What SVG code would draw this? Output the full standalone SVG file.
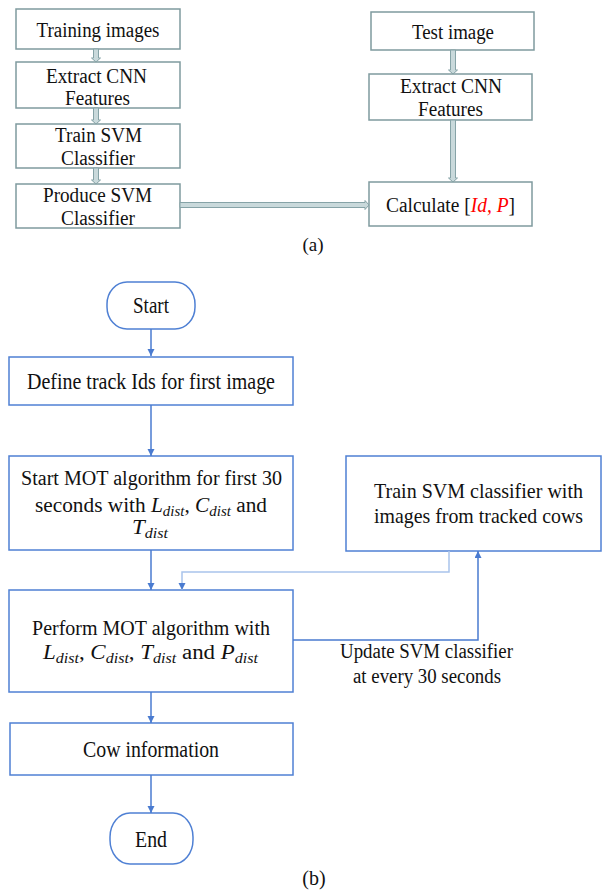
<svg xmlns="http://www.w3.org/2000/svg" width="602" height="893" viewBox="0 0 602 893">
<style>
.abox{fill:#fff;stroke:#7f9a9e;stroke-width:1.5}
.bbox{fill:#fff;stroke:#4f80d4;stroke-width:1.5}
text{font-family:'Liberation Serif','Times New Roman','DejaVu Serif',serif;fill:#111;text-anchor:middle}
.ta{font-size:20px}
.m{font-style:italic}
.sub{font-style:italic;font-size:14px}
.dbl{fill:#c9d9db;stroke:#86a3a7;stroke-width:1}
.ln{fill:none;stroke:#4a7bd0;stroke-width:1.5}
.lnl{fill:none;stroke:#a9c4ec;stroke-width:1.5}
</style>
<defs>
<marker id="ah" markerWidth="8" markerHeight="8" refX="7" refY="3.5" orient="auto" markerUnits="userSpaceOnUse">
<path d="M0,0 L7,3.5 L0,7 z" fill="#4a7bd0"/>
</marker>
</defs>

<!-- (a) nodes -->
<g id="a_training"><rect class="abox" x="16" y="9" width="164" height="40"/>
<text class="ta" x="98" y="37" textLength="123" lengthAdjust="spacingAndGlyphs">Training images</text></g>
<g id="a_extract_left"><rect class="abox" x="16" y="62" width="164" height="46"/>
<text class="ta" x="96.5" y="83" textLength="101" lengthAdjust="spacingAndGlyphs">Extract CNN</text>
<text class="ta" x="97.5" y="105" textLength="65" lengthAdjust="spacingAndGlyphs">Features</text></g>
<g id="a_train"><rect class="abox" x="16" y="124" width="164" height="44"/>
<text class="ta" x="98.5" y="142" textLength="87" lengthAdjust="spacingAndGlyphs">Train SVM</text>
<text class="ta" x="98" y="165" textLength="74" lengthAdjust="spacingAndGlyphs">Classifier</text></g>
<g id="a_produce"><rect class="abox" x="16" y="184" width="164" height="44"/>
<text class="ta" x="97.5" y="202" textLength="109" lengthAdjust="spacingAndGlyphs">Produce SVM</text>
<text class="ta" x="98" y="225" textLength="74" lengthAdjust="spacingAndGlyphs">Classifier</text></g>
<g id="a_test"><rect class="abox" x="371" y="12" width="163" height="38"/>
<text class="ta" x="453" y="39" textLength="82" lengthAdjust="spacingAndGlyphs">Test image</text></g>
<g id="a_extract_right"><rect class="abox" x="369" y="74" width="163" height="46"/>
<text class="ta" x="451" y="93" textLength="102" lengthAdjust="spacingAndGlyphs">Extract CNN</text>
<text class="ta" x="450.5" y="116" textLength="65" lengthAdjust="spacingAndGlyphs">Features</text></g>
<g id="a_calc"><rect class="abox" x="369" y="182" width="163" height="44"/>
<text class="ta" x="450.5" y="212" textLength="129" lengthAdjust="spacingAndGlyphs">Calculate [<tspan class="m" fill="#ff0000">Id, P</tspan>]</text></g>

<!-- (a) connectors -->
<g id="a_connectors">
<polygon class="dbl" points="93.5,49 98.5,49 98.5,58 100.5,58 96,62 91.5,58 93.5,58"/>
<polygon class="dbl" points="93.5,108 98.5,108 98.5,120 100.5,120 96,124 91.5,120 93.5,120"/>
<polygon class="dbl" points="93.5,168 98.5,168 98.5,180 100.5,180 96,184 91.5,180 93.5,180"/>
<polygon class="dbl" points="450.5,50 455.5,50 455.5,70 457.5,70 453,74 448.5,70 450.5,70"/>
<polygon class="dbl" points="450.5,120 455.5,120 455.5,178 457.5,178 453,182 448.5,178 450.5,178"/>
<polygon class="dbl" points="180,202.5 365,202.5 365,200.5 369,205 365,209.5 365,207.5 180,207.5"/>
</g>
<text x="313" y="251" font-size="19">(a)</text>

<!-- (b) nodes -->
<g id="b_start"><rect class="bbox" x="107" y="282" width="88" height="47" rx="20" ry="22"/>
<text font-size="23" x="151" y="313" textLength="36" lengthAdjust="spacingAndGlyphs">Start</text></g>
<g id="b_define"><rect class="bbox" x="9" y="357" width="284" height="48"/>
<text font-size="24" x="151" y="389" textLength="248" lengthAdjust="spacingAndGlyphs">Define track Ids for first image</text></g>
<g id="b_startmot"><rect class="bbox" x="9" y="456" width="284" height="94"/>
<text font-size="20" x="151.5" y="485" textLength="261" lengthAdjust="spacingAndGlyphs">Start MOT algorithm for first 30</text>
<text font-size="20" x="151" y="512" textLength="232" lengthAdjust="spacingAndGlyphs">seconds with <tspan class="m">L</tspan><tspan class="sub" baseline-shift="-4">dist</tspan>, <tspan class="m">C</tspan><tspan class="sub" baseline-shift="-4">dist</tspan> and</text>
<text font-size="20" x="150" y="534" textLength="36" lengthAdjust="spacingAndGlyphs"><tspan class="m">T</tspan><tspan class="sub" baseline-shift="-4">dist</tspan></text></g>
<g id="b_trainsvm"><rect class="bbox" x="346" y="456" width="255" height="95"/>
<text font-size="21" x="478.5" y="498" textLength="209" lengthAdjust="spacingAndGlyphs">Train SVM classifier with</text>
<text font-size="21" x="478.5" y="523" textLength="209" lengthAdjust="spacingAndGlyphs">images from tracked cows</text></g>
<g id="b_perform"><rect class="bbox" x="9" y="590" width="284" height="102"/>
<text font-size="20" x="151" y="635" textLength="238" lengthAdjust="spacingAndGlyphs">Perform MOT algorithm with</text>
<text font-size="20" x="150.5" y="659" textLength="215" lengthAdjust="spacingAndGlyphs"><tspan class="m">L</tspan><tspan class="sub" baseline-shift="-4">dist</tspan>, <tspan class="m">C</tspan><tspan class="sub" baseline-shift="-4">dist</tspan>, <tspan class="m">T</tspan><tspan class="sub" baseline-shift="-4">dist</tspan> and <tspan class="m">P</tspan><tspan class="sub" baseline-shift="-4">dist</tspan></text></g>
<g id="b_cow"><rect class="bbox" x="10" y="723" width="283" height="52"/>
<text font-size="23" x="151" y="757" textLength="136" lengthAdjust="spacingAndGlyphs">Cow information</text></g>
<g id="b_end"><rect class="bbox" x="110" y="813" width="83" height="51" rx="20" ry="24"/>
<text font-size="23" x="151" y="847" textLength="32" lengthAdjust="spacingAndGlyphs">End</text></g>

<!-- (b) connectors -->
<g id="b_connectors">
<line class="ln" x1="151" y1="329" x2="151" y2="356" marker-end="url(#ah)"/>
<line class="ln" x1="151" y1="405" x2="151" y2="456" marker-end="url(#ah)"/>
<line class="ln" x1="151" y1="550" x2="151" y2="590" marker-end="url(#ah)"/>
<path class="lnl" d="M449,551 V572 H182 V590" marker-end="url(#ah)"/>
<path class="ln" d="M293,640 H478 V551" marker-end="url(#ah)"/>
<line class="ln" x1="151" y1="692" x2="151" y2="723" marker-end="url(#ah)"/>
<line class="ln" x1="151" y1="775" x2="151" y2="813" marker-end="url(#ah)"/>
</g>
<text font-size="20" x="426.5" y="658" textLength="173" lengthAdjust="spacingAndGlyphs">Update SVM classifier</text>
<text font-size="20" x="427" y="683" textLength="148" lengthAdjust="spacingAndGlyphs">at every 30 seconds</text>
<text x="314" y="885" font-size="20">(b)</text>
</svg>
